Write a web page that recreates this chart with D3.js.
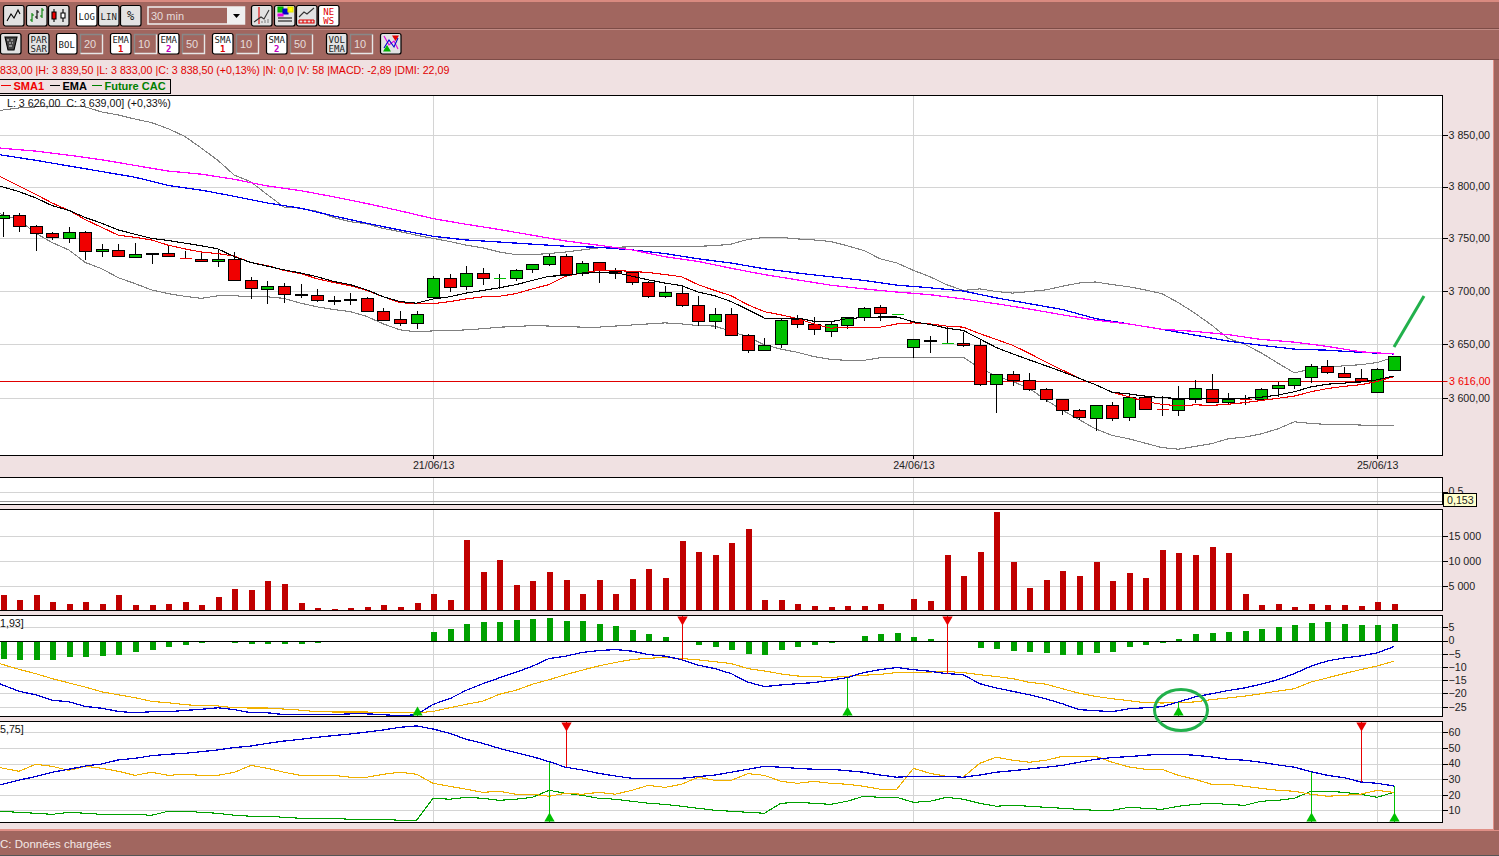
<!DOCTYPE html>
<html>
<head>
<meta charset="utf-8">
<script src="https://cdn.jsdelivr.net/npm/d3@7"></script>
<style>
  html, body { margin: 0; padding: 0; background: #f0e1e2; overflow: hidden; }
  svg { display: block; font-family: 'Liberation Sans', Arial, sans-serif; }
  .axis text { font-size: 10.67px; fill: #222; font-family: 'Liberation Sans', Arial, sans-serif; }
  .axis line { stroke: #000; }
  .axis .domain { display: none; }
</style>
</head>
<body>
<div id="root"></div>
<script>
const width = 1499;
const height = 856;

// Candles, one value per 30 min bar

const opens = [
  3770, 3772.5, 3761.5, 3755, 3750, 3756.5, 3738, 3739, 3732.5, 3735,
  3736, 3731.5, 3730.5, 3728.5, 3730.5, 3710.5, 3702, 3705, 3696, 3696,
  3690.5, 3691.5, 3693, 3681, 3673.5, 3670, 3694.5, 3712.5, 3705, 3717,
  3712.5, 3712.5, 3721, 3725.5, 3733, 3717, 3727.5, 3719, 3718, 3708.5,
  3695.5, 3698, 3687, 3671.5, 3678.5, 3658.5, 3644.5, 3650, 3673.5, 3669,
  3662.5, 3668, 3675.5, 3685, 3678.5, 3647, 3653, 3651, 3651, 3649,
  3613, 3622, 3616.5, 3608.5, 3599, 3589, 3581.5, 3593.5, 3582.5, 3601,
  3590, 3589, 3599, 3608.5, 3596.5, 3599, 3599, 3609.5, 3612, 3619.5,
  3629.5, 3623, 3618.5, 3605.5, 3626,
];
const closes = [
  3772.5, 3762, 3755, 3751, 3756.5, 3738, 3740, 3733, 3735, 3736,
  3733, 3731.5, 3728.5, 3730.5, 3710.5, 3703, 3705, 3697, 3697, 3691.5,
  3691.5, 3692.5, 3681, 3672.5, 3670, 3678, 3712.5, 3704, 3717, 3712.5,
  3712.5, 3720, 3725.5, 3733, 3716, 3726.5, 3720, 3717, 3708.5, 3695.5,
  3699, 3687, 3671.5, 3678.5, 3658.5, 3644.5, 3649, 3672.5, 3669, 3664,
  3669, 3675.5, 3684, 3679, 3678.5, 3654.5, 3654, 3651, 3649, 3613,
  3622, 3616.5, 3608.5, 3599, 3589, 3582.5, 3593.5, 3581.5, 3601, 3590,
  3590, 3599, 3609.5, 3597, 3599, 3599, 3608.5, 3612, 3618.5, 3629.5,
  3624, 3619.5, 3615.5, 3627, 3639,
];
const highs = [
  3775.5, 3774.5, 3762.5, 3756.5, 3761, 3757.5, 3744.5, 3744.5, 3745.5, 3736,
  3744, 3738, 3737.5, 3739.5, 3737, 3713.5, 3709, 3707.5, 3707, 3702,
  3695, 3698, 3694, 3684, 3681, 3681, 3714, 3716.5, 3724, 3722,
  3716, 3721, 3725.5, 3735.5, 3735.5, 3728.5, 3727.5, 3722, 3719, 3709.5,
  3705, 3704, 3695.5, 3684, 3684, 3659.5, 3655.5, 3673.5, 3677.5, 3675.5,
  3671, 3675.5, 3685, 3687, 3678.5, 3654.5, 3657.5, 3667, 3661.5, 3654,
  3622, 3625, 3623, 3609.5, 3599, 3590, 3593.5, 3596.5, 3603, 3602,
  3602, 3611, 3616.5, 3622, 3604.5, 3603, 3609.5, 3615, 3618.5, 3631.5,
  3635, 3628.5, 3627, 3628, 3639,
];
const lows = [
  3751, 3756.5, 3737.5, 3748, 3746, 3729, 3732, 3732.5, 3732, 3725.5,
  3733, 3730.5, 3727.5, 3722.5, 3709, 3692.5, 3687.5, 3688.5, 3693, 3690,
  3686.5, 3686.5, 3681, 3672.5, 3667.5, 3664.5, 3693.5, 3699.5, 3701, 3705.5,
  3702, 3709, 3717, 3723.5, 3714.5, 3714, 3708, 3711.5, 3705.5, 3693,
  3693, 3684.5, 3667, 3664.5, 3658.5, 3642, 3644.5, 3646.5, 3665.5, 3659,
  3657, 3664, 3672, 3671.5, 3678.5, 3637.5, 3642, 3650, 3647, 3611,
  3586.5, 3611, 3606.5, 3597, 3585, 3580.5, 3570.5, 3579.5, 3579.5, 3590,
  3583.5, 3583.5, 3595.5, 3595.5, 3593.5, 3593.5, 3599, 3601, 3608.5, 3614,
  3622, 3618.5, 3615, 3604.5, 3626,
];
// bars with open equal to close drawn in green
const flatUp = [30, 54, 57];

// Moving averages and Bollinger bands

const sma1 = [
  3810, 3800.5, 3792.5, 3784, 3777, 3768, 3760.5, 3753, 3751, 3748.5,
  3743.5, 3740, 3737, 3735.5, 3733, 3727, 3724, 3719.5, 3716.5, 3711.5,
  3708, 3705, 3700.5, 3694.5, 3689, 3688, 3688, 3690, 3692.5, 3694.5,
  3695, 3697.5, 3702, 3706, 3714, 3717, 3719.5, 3719.5, 3718.5, 3717.5,
  3715.5, 3713.5, 3706, 3700.5, 3695.5, 3687, 3680.5, 3677.5, 3674, 3669,
  3665, 3666, 3666, 3666, 3669, 3670, 3669, 3667, 3666, 3660,
  3654.5, 3649, 3641.5, 3633.5, 3626, 3618.5, 3612.5, 3605.5, 3601.5, 3597,
  3594.5, 3593, 3594, 3593.5, 3594.5, 3596, 3598, 3600, 3602, 3606,
  3609, 3611, 3612.5, 3615.5, 3620,
];
const ema1 = [
  3800.5, 3795, 3789, 3781.5, 3777, 3770, 3764.5, 3758, 3754, 3750,
  3748, 3745.5, 3743, 3740, 3732.5, 3727, 3723.5, 3720, 3717, 3713.5,
  3709, 3706, 3701, 3694.5, 3690, 3688.5, 3692.5, 3694.5, 3698, 3700.5,
  3703, 3706, 3710, 3714, 3714.5, 3717, 3717.5, 3717.5, 3714, 3710.5,
  3707.5, 3705, 3699, 3695.5, 3690, 3682.5, 3674.5, 3674.5, 3674.5, 3671.5,
  3671, 3674, 3675, 3675.5, 3675.5, 3671, 3668.5, 3665, 3663, 3655,
  3647, 3641, 3635.5, 3630, 3624.5, 3618.5, 3612.5, 3605.5, 3604, 3602,
  3600.5, 3600, 3600, 3599.5, 3599.5, 3600, 3601, 3603, 3606, 3610.5,
  3613, 3614, 3615, 3617, 3620.5,
];
const bollUpper = [
  3874.5, 3877, 3878, 3878, 3878, 3878, 3873, 3870, 3866, 3862.5,
  3856.5, 3849, 3837.5, 3825.5, 3811, 3804.5, 3792, 3780, 3779, 3776,
  3770, 3766, 3764, 3759.5, 3756.5, 3753, 3750, 3747, 3743.5, 3741,
  3737, 3734.5, 3734.5, 3735.5, 3737, 3739, 3741, 3741.5, 3742, 3742,
  3742, 3742, 3742.5, 3743, 3744.5, 3749, 3751, 3751, 3749.5, 3748.5,
  3747, 3743, 3738.5, 3730.5, 3726.5, 3719.5, 3713.5, 3706, 3700.5, 3702,
  3699.5, 3698, 3699.5, 3701, 3704.5, 3707.5, 3708.5, 3706, 3704, 3701,
  3697.5, 3689, 3679, 3668, 3655.5, 3650, 3642, 3632.5, 3623.5, 3627,
  3628.5, 3630, 3631, 3633, 3638,
];
const bollLower = [
  3774, 3767.5, 3755, 3746, 3739, 3727, 3721, 3712.5, 3707, 3701,
  3697.5, 3695, 3693, 3695.5, 3695.5, 3694.5, 3694.5, 3693, 3688.5, 3685,
  3682.5, 3680.5, 3676, 3669, 3663.5, 3661.5, 3662.5, 3662.5, 3663.5, 3664.5,
  3666, 3666.5, 3667.5, 3667, 3666.5, 3666, 3666, 3667, 3668, 3669,
  3670, 3669, 3667.5, 3667, 3662, 3657, 3649.5, 3645.5, 3642.5, 3638.5,
  3636, 3635, 3635, 3637.5, 3638, 3638, 3637.5, 3638, 3638, 3628,
  3620.5, 3615.5, 3609, 3598.5, 3589, 3580.5, 3572, 3566, 3563, 3559,
  3555, 3553.5, 3556, 3558.5, 3563, 3564.5, 3567.5, 3572, 3578.5, 3577,
  3576, 3576, 3575.5, 3575, 3575,
];
// the two slow averages are read every second bar
const slowBars = d3.range(0, 85, 2);
const ema2 = [
  3831, 3825.5, 3820, 3814.5, 3809, 3801, 3796.5, 3790.5, 3784, 3779,
  3771.5, 3764.5, 3758, 3752, 3748.5, 3746.5, 3744.5, 3742.5, 3741.5, 3739,
  3735.5, 3730.5, 3726.5, 3721, 3717, 3713.5, 3710, 3705.5, 3703, 3700,
  3693.5, 3688, 3682.5, 3674, 3669, 3664, 3658.5, 3653, 3649, 3645.5,
  3644.5, 3642.5, 3641,
];
const sma2 = [
  3837.5, 3834.5, 3830.5, 3826, 3820.5, 3815, 3812, 3807, 3800.5, 3796,
  3790, 3783.5, 3776.5, 3769, 3763.5, 3758.5, 3753, 3747.5, 3743.5, 3739,
  3732.5, 3728, 3721.5, 3715.5, 3710.5, 3705.5, 3702, 3699, 3696.5, 3692.5,
  3688, 3683, 3677.5, 3672.5, 3669, 3664, 3662, 3659, 3654.5, 3652,
  3648, 3643, 3641,
];

// Volume

const volumes = [
  3040, 2030, 3040, 1620, 1220, 1620, 1220, 3040, 1010, 1010,
  1220, 1620, 1010, 2640, 4260, 4060, 5880, 5270, 1420, 410,
  200, 410, 610, 1010, 610, 1420, 3240, 2030, 14200, 7700,
  10140, 5070, 5880, 7700, 6080, 3240, 6080, 3240, 6290, 8310,
  6490, 13990, 11760, 11150, 13590, 16430, 2030, 2030, 1220, 810,
  610, 810, 810, 1220, 0, 2230, 1830, 11150, 6900, 11760,
  19870, 9730, 4460, 6080, 7910, 6900, 9730, 5880, 7500, 6490,
  12170, 11560, 11150, 12780, 11560, 3240, 1010, 1220, 610, 1220,
  1010, 1010, 810, 1620, 1220,
];

// MACD

const macdHist = [
  -7.1, -7.4, -7.4, -7.4, -6.3, -6.3, -5.9, -5.5, -4.4, -3.7,
  -2.5, -1.8, -1, 0, -1, -1.4, -1.4, -1.4, -1.4, -1,
  -0.6, 0, 0, -0.6, -0.6, 0, 3.2, 4.3, 6.2, 6.9,
  6.9, 7.7, 8.1, 8.5, 7.3, 7.3, 6.2, 5.4, 3.9, 2.4,
  1.3, 0, -1.8, -2.5, -3.7, -5.2, -5.5, -3.7, -2.5, -1.8,
  -1, 0, 1.6, 2.4, 2.8, 1.3, 0.5, 0, 0, -2.9,
  -3.3, -4, -4.4, -4.8, -5.5, -5.5, -4.8, -4.4, -2.5, -1.8,
  -1, 0.5, 2.4, 2.8, 3.2, 3.5, 4.3, 5, 5.8, 6.6,
  6.9, 6.2, 5.8, 5.8, 6.2,
];
const macdLine = [
  -16.3, -19.2, -20.5, -22.6, -23.1, -24.9, -25.6, -26.8, -27.3, -26.9,
  -26.9, -26.4, -26, -25.4, -26.1, -27.3, -27.3, -28, -28, -28,
  -28, -27.7, -27.7, -28, -28.5, -28, -24.1, -22, -18.8, -16.3,
  -14.1, -12, -9.7, -6.8, -5.9, -4.5, -3.8, -3.4, -4, -5.3,
  -5.9, -7.2, -9.3, -10.6, -12.5, -15.7, -17.4, -16.8, -16.3, -15.9,
  -15, -14, -12.1, -11, -10.2, -11, -11.6, -12.5, -12.9, -16.3,
  -17.9, -19.2, -20.5, -22, -23.9, -26.1, -26.5, -26.9, -25.8, -25.4,
  -25, -23.2, -21.3, -20.1, -18.9, -17.9, -16.5, -14.8, -12.5, -9.7,
  -7.7, -6.6, -5.8, -4.7, -2.3,
];
const macdSignal = [
  -8.7, -10.9, -12.5, -14.4, -16, -17.6, -19.4, -20.5, -21.6, -23,
  -23.5, -24.2, -24.7, -24.7, -25.4, -25.5, -25.5, -25.9, -26.3, -26.9,
  -27, -27, -27, -27.3, -27.3, -27.3, -26.8, -25.4, -24.1, -22.9,
  -20.3, -18.8, -16.5, -14.8, -12.9, -11.2, -9.6, -8.3, -7.2, -6.7,
  -6.4, -6.8, -7.3, -8, -8.7, -10.6, -11.5, -12.6, -13.4, -13.6,
  -14, -13.5, -13.1, -12.8, -12.1, -12.1, -11.9, -11.7, -12.1, -12.9,
  -13.6, -14.4, -15.8, -16.5, -18.2, -19.9, -21.1, -22, -22.7, -23.5,
  -23.6, -23.5, -23.2, -22.3, -21.7, -21, -20.1, -19.1, -18.2, -15.7,
  -14.1, -12.5, -11, -9.6, -7.8,
];
const macdBuys = [25, 51, 71];
const macdSells = [41, 57];

// DMI

const dmiAdx = [
  26.2, 29.4, 31.6, 34.4, 36.3, 38.4, 39.7, 42.3, 43.3, 45,
  45.9, 46.5, 47.6, 48.7, 50.2, 51.2, 52.9, 54.4, 55.5, 56.8,
  57.9, 58.9, 60.2, 61.5, 63.2, 64.1, 62.1, 59.4, 55.5, 52.9,
  49.7, 47, 44.4, 41.2, 37.6, 35.9, 33.7, 32, 30.5, 30.5,
  30.5, 30.5, 31.6, 32.6, 34.4, 36.3, 38.2, 37.6, 36.9, 36.3,
  36.3, 35.4, 34.4, 32.6, 31.2, 31.8, 31.8, 31.8, 31.2, 32.6,
  34.4, 35.4, 36.5, 37.6, 38.8, 40.8, 42.7, 43.8, 44.4, 45.3,
  45.9, 45.9, 45.3, 44.2, 42.7, 42.1, 40.8, 39.1, 37.6, 34.8,
  32.4, 30.9, 28.2, 27.3, 25.6,
];
const dmiMinus = [
  37.4, 35, 39.5, 38.2, 35.6, 38.2, 36.9, 35, 32.4, 34.4,
  32.4, 33.1, 32.4, 32.4, 34.4, 38.8, 36.9, 34.4, 32.4, 32.4,
  32.4, 31.2, 31.2, 33.1, 34.4, 33.1, 27.3, 25.4, 23.5, 21.5,
  22.2, 20.3, 20.3, 19, 20.9, 20.3, 21.5, 20.3, 22.8, 26,
  24.7, 26.7, 31.2, 29.2, 29.2, 33.5, 32.4, 28.6, 27.3, 28.6,
  27.3, 26.7, 25.4, 23.5, 23.5, 36.9, 33.7, 31.8, 31.2, 40.1,
  44, 42.1, 40.8, 42.1, 44.6, 44.6, 44.6, 40.8, 37.8, 36.3,
  36.3, 32.4, 29.9, 26.7, 26.7, 25.4, 24.1, 22.8, 22.2, 20.3,
  19, 19.6, 20.3, 22.8, 21.5,
];
const dmiPlus = [
  9.4, 8.7, 8.1, 7.4, 8.7, 8.1, 7.4, 7.4, 7.4, 6.8,
  9.4, 9.4, 8.7, 8.1, 6.8, 6.2, 6.2, 5.5, 4.9, 4.9,
  4.9, 4.2, 4.2, 4.2, 3.6, 3.6, 17.7, 17.1, 18.3, 17.7,
  16.4, 17.1, 18.3, 22.8, 20.9, 19.6, 17.7, 17.1, 15.8, 14.5,
  13.8, 12.6, 11.3, 10, 9.4, 8.7, 8.1, 14.5, 15.1, 14.5,
  13.8, 15.8, 19, 18.3, 18.3, 15.1, 15.8, 18.3, 17.1, 14.5,
  12.6, 13.2, 12.6, 11.9, 11.3, 10.6, 10, 10, 11.9, 11.3,
  10.6, 12.6, 13.8, 14.5, 13.8, 13.2, 15.8, 16.4, 17.7, 22.2,
  22.2, 21.5, 20.3, 18.3, 21.5,
];
const dmiBuys = [33, 79, 84];
const dmiSells = [34, 82];

// Axis labels

const priceTicks = [3600, 3650, 3700, 3750, 3800, 3850];
const lastLevel = 3616;
const dateBars = [26, 55, 83];
const dateLabels = ['21/06/13', '24/06/13', '25/06/13'];
const volumeTicks = [5000, 10000, 15000];
const macdTicks = [5, 0, -5, -10, -15, -20, -25];
const dmiTicks = [10, 20, 30, 40, 50, 60];
const emptyTicks = [0.5];
const emptyValue = 0.153;

const infoText =
  '833,00 |H: 3 839,50 |L: 3 833,00 |C: 3 838,50 (+0,13%) |N: 0,0 |V: 58 |MACD: -2,89 |DMI: 22,09';
const legendItems = [
  { label: 'SMA1', color: '#f00000', x: 1 },
  { label: 'EMA', color: '#000', x: 50 },
  { label: 'Future CAC', color: '#008000', x: 92 },
];

// Colors

const frameColor = '#a1665f';
const pinkColor = '#f0e1e2';
const gridColor = '#d4d4d4';
const annotationColor = '#22b14c';

const locale = d3.formatLocale({
  decimal: ',',
  thousands: ' ',
  grouping: [3],
  currency: ['', ''],
});

// Main canvas

const svg = d3
  .select('#root')
  .append('svg')
  .attr('width', width)
  .attr('height', height);

svg.append('rect').attr('width', width).attr('height', height).attr('fill', pinkColor);

// Panels

const plotRight = 1442.5;
const panels = {
  main: { top: 95.5, bottom: 455.5 },
  empty: { top: 477.5, bottom: 504.5 },
  volume: { top: 509.5, bottom: 610.5 },
  macd: { top: 615.5, bottom: 716.5 },
  dmi: { top: 721.5, bottom: 822.5 },
};

const xScale = d3.scaleLinear().domain([0, 84]).range([2.5, 1393.7]);
const priceScale = d3.scaleLog().domain([3600, 3850]).range([398.3, 135.3]);
const emptyScale = d3.scaleLinear().domain([0.153, 0.5]).range([500.5, 491.5]);
const volumeScale = d3.scaleLinear().domain([0, 15000]).range([610.3, 536.3]);
const macdScale = d3.scaleLinear().domain([-25, 5]).range([706.7, 627.3]);
const dmiScale = d3.scaleLinear().domain([10, 60]).range([810.3, 732.3]);

Object.entries(panels).forEach(([name, p]) => {
  svg
    .append('clipPath')
    .attr('id', `clip-${name}`)
    .append('rect')
    .attr('x', -2)
    .attr('y', p.top)
    .attr('width', plotRight + 2)
    .attr('height', p.bottom - p.top);

  svg
    .append('rect')
    .attr('x', -2)
    .attr('y', p.top)
    .attr('width', plotRight + 2)
    .attr('height', p.bottom - p.top)
    .attr('fill', '#fff');
});

const plot = (name) =>
  svg
    .append('g')
    .attr('clip-path', `url(#clip-${name})`)
    .attr('shape-rendering', 'crispEdges');

function drawGrid(name, scale, ticks) {
  const p = panels[name];
  const g = plot(name);
  g.selectAll('.h')
    .data(ticks)
    .enter()
    .append('line')
    .attr('x1', 0)
    .attr('x2', plotRight)
    .attr('y1', (d) => Math.round(scale(d)) + 0.5)
    .attr('y2', (d) => Math.round(scale(d)) + 0.5)
    .attr('stroke', gridColor);
  g.selectAll('.v')
    .data(dateBars)
    .enter()
    .append('line')
    .attr('x1', (d) => Math.round(xScale(d)) + 0.5)
    .attr('x2', (d) => Math.round(xScale(d)) + 0.5)
    .attr('y1', p.top)
    .attr('y2', p.bottom)
    .attr('stroke', gridColor);
  return g;
}

function drawAxis(scale, ticks, format) {
  svg
    .append('g')
    .attr('class', 'axis')
    .attr('transform', `translate(${plotRight}, 0)`)
    .attr('shape-rendering', 'crispEdges')
    .call(d3.axisRight(scale).tickValues(ticks).tickSize(5).tickPadding(1).tickFormat(format));
}

function drawLine(g, scale, values, color, bars = null, weight = 1.1) {
  // the series run on past the left edge, so the first point sits just outside it
  const line = d3
    .line()
    .x((d, i) => xScale(bars ? bars[i] : i) - (i === 0 ? 3 : 0))
    .y((d) => scale(d));
  g.append('path')
    .attr('d', line(values))
    .attr('fill', 'none')
    .attr('stroke', color)
    .attr('stroke-width', weight);
}

function drawPanelBorder(name) {
  const p = panels[name];
  svg
    .append('rect')
    .attr('x', -2)
    .attr('y', p.top)
    .attr('width', plotRight + 2)
    .attr('height', p.bottom - p.top)
    .attr('fill', 'none')
    .attr('stroke', '#000')
    .attr('shape-rendering', 'crispEdges');
}

// Buy and sell markers: a stem from the panel edge to the line

function drawSignals(name, scale, values, bars, color, up) {
  const p = panels[name];
  const edge = up ? p.bottom : p.top;
  const g = svg.append('g').attr('clip-path', `url(#clip-${name})`);
  const symbol = d3.symbol().type(d3.symbolTriangle).size(46);

  g.selectAll('line')
    .data(bars)
    .enter()
    .append('line')
    .attr('x1', (d) => Math.round(xScale(d)) + 0.5)
    .attr('x2', (d) => Math.round(xScale(d)) + 0.5)
    .attr('y1', edge)
    .attr('y2', (d) => scale(values[d]))
    .attr('stroke', color)
    .attr('shape-rendering', 'crispEdges');

  g.selectAll('path')
    .data(bars)
    .enter()
    .append('path')
    .attr('d', symbol())
    .attr('fill', color)
    .attr(
      'transform',
      (d) =>
        `translate(${Math.round(xScale(d)) + 0.5}, ${up ? edge - 4 : edge + 4}) rotate(${up ? 0 : 180})`
    );
}

// Price panel

const mainG = drawGrid('main', priceScale, priceTicks);

drawLine(mainG, priceScale, bollUpper, '#808080');
drawLine(mainG, priceScale, bollLower, '#808080');
drawLine(mainG, priceScale, ema2, '#0000f0', slowBars, 1.25);
drawLine(mainG, priceScale, sma2, '#ff00ff', slowBars, 1.25);

mainG
  .append('line')
  .attr('x1', 0)
  .attr('x2', plotRight)
  .attr('y1', Math.round(priceScale(lastLevel)) + 0.5)
  .attr('y2', Math.round(priceScale(lastLevel)) + 0.5)
  .attr('stroke', '#e00000');

const candle = mainG.selectAll('.candle').data(opens).enter().append('g');
const bodyWidth = 12;
const isUp = (i) => closes[i] > opens[i] || flatUp.includes(i);

candle
  .append('line')
  .attr('x1', (d, i) => Math.round(xScale(i)) + 0.5)
  .attr('x2', (d, i) => Math.round(xScale(i)) + 0.5)
  .attr('y1', (d, i) => priceScale(highs[i]))
  .attr('y2', (d, i) => priceScale(lows[i]))
  .attr('stroke', '#000');

candle.each(function (d, i) {
  const g = d3.select(this);
  const x = Math.round(xScale(i)) + 0.5 - bodyWidth / 2;
  const color = isUp(i) ? '#00c000' : '#f00000';
  if (closes[i] === opens[i]) {
    g.append('line')
      .attr('x1', x)
      .attr('x2', x + bodyWidth)
      .attr('y1', Math.round(priceScale(opens[i])) + 0.5)
      .attr('y2', Math.round(priceScale(opens[i])) + 0.5)
      .attr('stroke', color);
    return;
  }
  const top = Math.round(priceScale(Math.max(opens[i], closes[i])));
  const bottom = Math.round(priceScale(Math.min(opens[i], closes[i])));
  g.append('rect')
    .attr('x', x)
    .attr('y', top + 0.5)
    .attr('width', bodyWidth)
    .attr('height', Math.max(bottom - top, 1))
    .attr('fill', color)
    .attr('stroke', '#000');
});

drawLine(mainG, priceScale, sma1, '#f00000');
drawLine(mainG, priceScale, ema1, '#000');

drawPanelBorder('main');
drawAxis(priceScale, priceTicks, locale.format(',.2f'));

svg
  .append('g')
  .attr('class', 'axis')
  .attr('transform', `translate(0, ${panels.main.bottom})`)
  .attr('shape-rendering', 'crispEdges')
  .call(
    d3
      .axisBottom(xScale)
      .tickValues(dateBars)
      .tickSize(3)
      .tickPadding(3)
      .tickFormat((d, i) => dateLabels[i])
  );

// Last quote on the price axis

svg
  .append('line')
  .attr('x1', plotRight)
  .attr('x2', plotRight + 5)
  .attr('y1', Math.round(priceScale(lastLevel)) + 0.5)
  .attr('y2', Math.round(priceScale(lastLevel)) + 0.5)
  .attr('stroke', '#e00000');

svg
  .append('text')
  .attr('x', plotRight + 6.5)
  .attr('y', priceScale(lastLevel) + 4)
  .attr('font-size', 10.67)
  .attr('fill', '#f00000')
  .text(locale.format(',.2f')(lastLevel));

// Hand drawn annotation on the last candle

svg
  .append('line')
  .attr('x1', 1394)
  .attr('y1', 347)
  .attr('x2', 1424)
  .attr('y2', 296)
  .attr('stroke', annotationColor)
  .attr('stroke-width', 3);

// Empty indicator panel

drawGrid('empty', emptyScale, emptyTicks);
const emptyG = plot('empty');
emptyG
  .append('line')
  .attr('x1', 0)
  .attr('x2', plotRight)
  .attr('y1', Math.round(emptyScale(emptyValue)) + 0.5)
  .attr('y2', Math.round(emptyScale(emptyValue)) + 0.5)
  .attr('stroke', '#999');
drawPanelBorder('empty');
drawAxis(emptyScale, emptyTicks, locale.format(',.1f'));

// Volume panel

const volumeG = drawGrid('volume', volumeScale, volumeTicks);

volumeG
  .selectAll('.bar')
  .data(volumes)
  .enter()
  .append('rect')
  .attr('x', (d, i) => Math.round(xScale(i)) - 2.5)
  .attr('y', (d) => volumeScale(d))
  .attr('width', 6)
  .attr('height', (d) => volumeScale(0) - volumeScale(d))
  .attr('fill', '#c00000');

drawPanelBorder('volume');
drawAxis(volumeScale, volumeTicks, locale.format(',.0f'));

// MACD panel

const macdG = drawGrid('macd', macdScale, macdTicks);

macdG
  .selectAll('.bar')
  .data(macdHist)
  .enter()
  .append('rect')
  .attr('x', (d, i) => Math.round(xScale(i)) - 2.5)
  .attr('y', (d) => Math.min(macdScale(d), macdScale(0)))
  .attr('width', 6)
  .attr('height', (d) => Math.abs(macdScale(d) - macdScale(0)))
  .attr('fill', '#00a000');

macdG
  .append('line')
  .attr('x1', 0)
  .attr('x2', plotRight)
  .attr('y1', Math.round(macdScale(0)) + 0.5)
  .attr('y2', Math.round(macdScale(0)) + 0.5)
  .attr('stroke', '#000');

drawLine(macdG, macdScale, macdSignal, '#f0b000');
drawLine(macdG, macdScale, macdLine, '#0000d0', null, 1.25);

drawSignals('macd', macdScale, macdLine, macdBuys, '#00c000', true);
drawSignals('macd', macdScale, macdLine, macdSells, '#e80000', false);

drawPanelBorder('macd');
drawAxis(macdScale, macdTicks, d3.format('d'));

// DMI panel

const dmiG = drawGrid('dmi', dmiScale, dmiTicks);

drawLine(dmiG, dmiScale, dmiPlus, '#00a000');
drawLine(dmiG, dmiScale, dmiMinus, '#f0b000');
drawLine(dmiG, dmiScale, dmiAdx, '#0000d0', null, 1.25);

drawSignals('dmi', dmiScale, dmiAdx, dmiBuys, '#00c000', true);
drawSignals('dmi', dmiScale, dmiAdx, dmiSells, '#e80000', false);

drawPanelBorder('dmi');
drawAxis(dmiScale, dmiTicks, d3.format('d'));

// Green circle over the panel gap

svg
  .append('ellipse')
  .attr('cx', 1181)
  .attr('cy', 710)
  .attr('rx', 26.5)
  .attr('ry', 20.5)
  .attr('fill', 'none')
  .attr('stroke', annotationColor)
  .attr('stroke-width', 3);

// Cursor value on the empty panel

svg
  .append('rect')
  .attr('x', 1443.5)
  .attr('y', 493.5)
  .attr('width', 33)
  .attr('height', 13)
  .attr('fill', '#ffffcc')
  .attr('stroke', '#000')
  .attr('shape-rendering', 'crispEdges');

svg
  .append('text')
  .attr('x', 1447)
  .attr('y', 504)
  .attr('font-size', 10.67)
  .attr('fill', '#222')
  .text(locale.format(',.3f')(emptyValue));

// Labels on the panels

const labels = [
  { x: 7, y: 107, text: 'L: 3 626,00  C: 3 639,00] (+0,33%)' },
  { x: 0, y: 627, text: '1,93]' },
  { x: 0, y: 733, text: '5,75]' },
];

svg
  .selectAll('.label')
  .data(labels)
  .enter()
  .append('text')
  .attr('x', (d) => d.x)
  .attr('y', (d) => d.y)
  .attr('font-size', 10.67)
  .attr('fill', '#111')
  .style('white-space', 'pre')
  .text((d) => d.text);

svg
  .append('text')
  .attr('x', 0)
  .attr('y', 74)
  .attr('font-size', 10.67)
  .attr('fill', '#e00000')
  .text(infoText);

// Legend box

svg
  .append('path')
  .attr('d', 'M-1 79.5H170.5V93.5H-1')
  .attr('fill', 'none')
  .attr('stroke', '#000')
  .attr('shape-rendering', 'crispEdges');

const legend = svg
  .selectAll('.legend')
  .data(legendItems)
  .enter()
  .append('g')
  .attr('transform', (d) => `translate(${d.x}, 0)`);

legend
  .append('line')
  .attr('x1', 0)
  .attr('x2', 10)
  .attr('y1', 85.5)
  .attr('y2', 85.5)
  .attr('stroke', (d) => d.color);

legend
  .append('text')
  .attr('x', 12.5)
  .attr('y', 90)
  .attr('font-size', 11)
  .attr('font-weight', 'bold')
  .attr('fill', (d) => d.color)
  .text((d) => d.label);

// Window frame

const frame = svg.append('g').attr('shape-rendering', 'crispEdges');

frame.append('rect').attr('width', width).attr('height', 60).attr('fill', frameColor);
frame.append('rect').attr('width', width).attr('height', 1.5).attr('fill', '#d98a80');
frame.append('rect').attr('y', 28).attr('width', width).attr('height', 1).attr('fill', '#7d4c47');
frame.append('rect').attr('y', 29).attr('width', width).attr('height', 1).attr('fill', '#c08a84');
frame.append('rect').attr('y', 59).attr('width', width).attr('height', 1).attr('fill', '#7d4c47');
frame.append('rect').attr('y', 829).attr('width', width).attr('height', 27).attr('fill', frameColor);
frame.append('rect').attr('y', 829).attr('width', width).attr('height', 2).attr('fill', '#e08f86');
frame.append('rect').attr('y', 855).attr('width', width).attr('height', 1).attr('fill', '#555');
frame.append('rect').attr('x', 1494).attr('y', 60).attr('width', 5).attr('height', 770).attr('fill', frameColor);
frame.append('rect').attr('x', 1493).attr('y', 60).attr('width', 1).attr('height', 770).attr('fill', '#e08f86');

svg
  .append('text')
  .attr('x', 0)
  .attr('y', 848)
  .attr('font-size', 11.5)
  .attr('fill', '#f4e8e6')
  .text('C: Données chargées');

// Toolbar buttons

const buttons = [
  { x: 3, y: 5, icon: 'line' },
  { x: 26, y: 5, icon: 'bars' },
  { x: 48, y: 5, icon: 'candles' },
  { x: 76, y: 5, lines: ['LOG'], fill: '#fff' },
  { x: 98, y: 5, lines: ['LIN'] },
  { x: 120, y: 5, lines: ['%'], size: 12 },
  { x: 251, y: 5, icon: 'chart' },
  { x: 274, y: 5, icon: 'colors' },
  { x: 296, y: 5, icon: 'volume' },
  { x: 318, y: 5, lines: ['NE', 'WS'], color: '#e00000', fill: '#fff' },
  { x: 0, y: 33, icon: 'trash' },
  { x: 28, y: 33, lines: ['PAR', 'SAR'] },
  { x: 56, y: 33, lines: ['BOL'], fill: '#fff' },
  { x: 110, y: 33, lines: ['EMA', '1'], fill: '#fff', second: '#e00000' },
  { x: 158, y: 33, lines: ['EMA', '2'], fill: '#fff', second: '#c000c0' },
  { x: 212, y: 33, lines: ['SMA', '1'], fill: '#fff', second: '#e00000' },
  { x: 266, y: 33, lines: ['SMA', '2'], fill: '#fff', second: '#c000c0' },
  { x: 326, y: 33, lines: ['VOL', 'EMA'] },
  { x: 380, y: 33, icon: 'signals' },
];

const inputs = [
  { x: 80, w: 23, text: '20' },
  { x: 134, w: 23, text: '10' },
  { x: 182, w: 23, text: '50' },
  { x: 236, w: 23, text: '10' },
  { x: 290, w: 23, text: '50' },
  { x: 350, w: 23, text: '10' },
];

const iconPaths = {
  line: [{ d: 'M4 16L8 9L11 13L15 5L17 9', stroke: '#000' }],
  bars: [
    { d: 'M6 8V17M4 15H6M6 10H8', stroke: '#008000' },
    { d: 'M11 5V14M9 12H11M11 7H13', stroke: '#000' },
    { d: 'M16 3V13M14 11H16M16 5H18', stroke: '#008000' },
  ],
  candles: [
    { d: 'M6 4V17M15 4V17', stroke: '#000' },
    { d: 'M4 7H8V14H4Z', stroke: '#000', fill: '#f00000' },
    { d: 'M13 8H17V13H13Z', stroke: '#000', fill: '#fff' },
  ],
  chart: [
    { d: 'M8 2V19', stroke: '#e00000' },
    { d: 'M3 17L10 12L13 14L18 5', stroke: '#333' },
    { d: 'M11 18V16M14 18V15M17 18V14', stroke: '#888' },
  ],
  colors: [
    { d: 'M4 2H9V7H4Z', stroke: '#00a000', fill: '#00c000' },
    { d: 'M9 4H14V9H9Z', stroke: '#0000c0', fill: '#0000d0' },
    { d: 'M14 2H19V7H14Z', stroke: '#e0e000', fill: '#ffff00' },
    { d: 'M4 9H9V11H4Z', stroke: '#e000e0', fill: '#f000f0' },
    { d: 'M4 13H18M4 16H18', stroke: '#000' },
  ],
  volume: [
    { d: 'M3 12L8 7L11 9L18 3', stroke: '#333' },
    { d: 'M3 15H18M3 15V18H18V15M7 15V18M11 15V18M15 15V18', stroke: '#e00000' },
  ],
  trash: [
    { d: 'M5 4H17L14 17H8Z', stroke: '#000', fill: '#444' },
    { d: 'M7 7H9M11 7H13M9 10H11M12 10H13M9 13H12', stroke: '#ddd' },
  ],
  signals: [
    { d: 'M4 3L9 12L14 8L18 16', stroke: '#e000e0' },
    { d: 'M4 15L9 7L14 14L18 5', stroke: '#0000d0' },
    { d: 'M13 3H18L15.5 7Z', stroke: '#e00000', fill: '#e00000' },
    { d: 'M4 18H10L7 13Z', stroke: '#00b000', fill: '#00b000' },
  ],
};

const button = svg
  .selectAll('.button')
  .data(buttons)
  .enter()
  .append('g')
  .attr('transform', (d) => `translate(${d.x}, ${d.y})`);

button
  .append('rect')
  .attr('x', 0.5)
  .attr('y', 0.5)
  .attr('width', 20.5)
  .attr('height', 20.5)
  .attr('rx', 2)
  .attr('fill', (d) => d.fill || '#e2e2e2')
  .attr('stroke', '#000')
  .attr('stroke-width', 1.2);

button
  .filter((d) => d.icon)
  .selectAll('path')
  .data((d) => iconPaths[d.icon])
  .enter()
  .append('path')
  .attr('d', (d) => d.d)
  .attr('fill', (d) => d.fill || 'none')
  .attr('stroke', (d) => d.stroke)
  .attr('stroke-width', 1.1);

button
  .filter((d) => d.lines)
  .each(function (d) {
    const g = d3.select(this);
    const two = d.lines.length === 2;
    d.lines.forEach((t, i) => {
      g.append('text')
        .attr('x', 10.7)
        .attr('y', two ? 9.5 + i * 9.5 : 14.5)
        .attr('text-anchor', 'middle')
        .attr('font-family', 'DejaVu Sans Mono')
        .attr('font-size', d.size || 9)
        .attr('font-weight', i === 1 && d.second ? 'bold' : 'normal')
        .attr('fill', i === 1 && d.second ? d.second : d.color || '#222')
        .text(t);
    });
  });

const input = svg
  .selectAll('.input')
  .data(inputs)
  .enter()
  .append('g')
  .attr('transform', (d) => `translate(${d.x}, 34)`);

input
  .append('path')
  .attr('d', (d) => `M0.5 19.5V0.5H${d.w - 0.5}`)
  .attr('fill', 'none')
  .attr('stroke', '#888')
  .attr('stroke-width', 1.4);

input
  .append('path')
  .attr('d', (d) => `M${d.w - 0.5} 0.5V19.5H0.5`)
  .attr('fill', 'none')
  .attr('stroke', '#e6e6e6')
  .attr('stroke-width', 1.4);

input
  .append('text')
  .attr('x', 4)
  .attr('y', 14)
  .attr('font-size', 11)
  .attr('fill', '#e6dcda')
  .text((d) => d.text);

// Period selector

svg
  .append('rect')
  .attr('x', 148)
  .attr('y', 7)
  .attr('width', 96.5)
  .attr('height', 17)
  .attr('fill', frameColor)
  .attr('stroke', '#f0f0f0')
  .attr('stroke-width', 1.5);

svg
  .append('rect')
  .attr('x', 227)
  .attr('y', 7)
  .attr('width', 17.5)
  .attr('height', 17)
  .attr('fill', '#f0f0f0');

svg
  .append('path')
  .attr('d', 'M233 14H240L236.5 18Z')
  .attr('fill', '#000');

svg
  .append('text')
  .attr('x', 151)
  .attr('y', 20)
  .attr('font-size', 11)
  .attr('fill', '#e6dcda')
  .text('30 min');
</script>
</body>
</html>
